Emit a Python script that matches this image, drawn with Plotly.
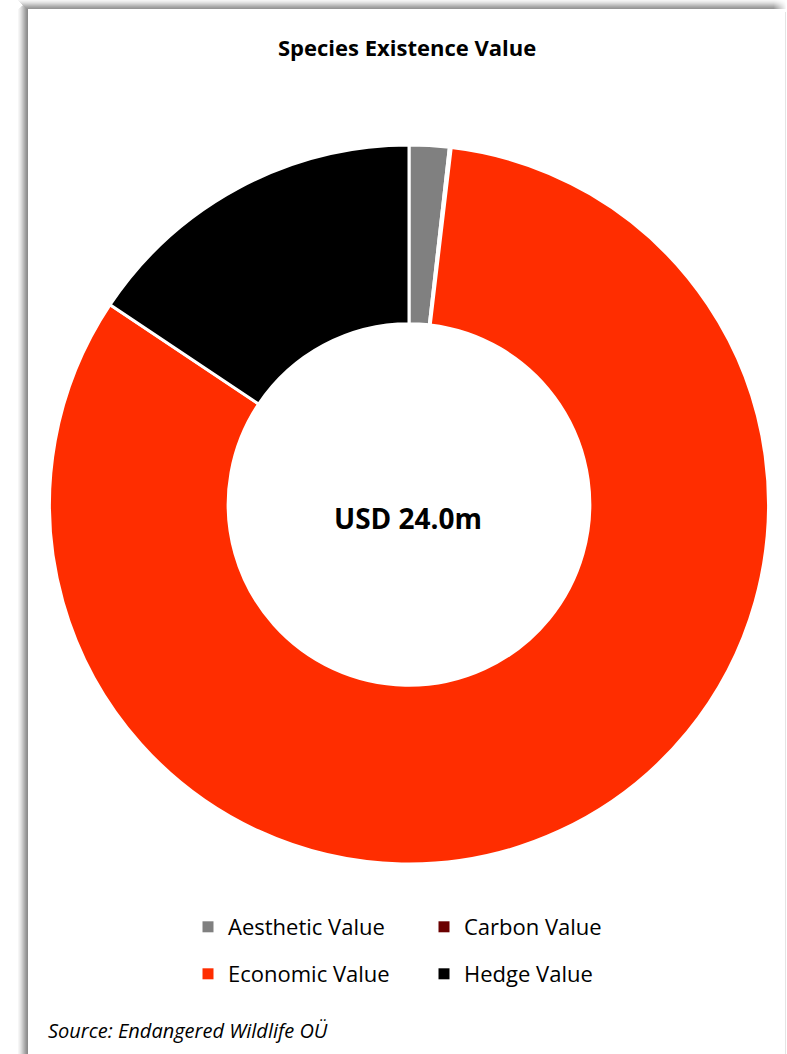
import plotly.graph_objects as go

labels = ["Aesthetic Value", "Carbon Value", "Economic Value", "Hedge Value"]
values = [0.43, 0.02, 19.80, 3.75]
colors = ["#808080", "#6B0000", "#FF2D00", "#000000"]
legend_rows = ["legend", "legend", "legend2", "legend2"]
title_text = "Species Existence Value"
center_text = "USD 24.0m"
source_text = "Source: Endangered Wildlife OÜ"

W, H = 787, 1054

fig = go.Figure(go.Pie(
    labels=labels, values=values, hole=0.503, sort=False, direction="clockwise",
    rotation=0, textinfo="none", hoverinfo="label+value", showlegend=False,
    marker=dict(colors=colors, line=dict(color="white", width=3)),
    domain=dict(x=[49 / W, 769 / W], y=[1 - 864 / H, 1 - 145 / H]),
))

# legend entries (two rows) mirroring the pie slices
for lab, col, lg in zip(labels, colors, legend_rows):
    fig.add_trace(go.Scatter(
        x=[None], y=[None], mode="markers", name=lab, legend=lg,
        marker=dict(symbol="square", size=11, color=col), hoverinfo="skip",
    ))

shapes = []
# card shadow approximation: left edge gradient
left_grays = [246, 238, 228, 216, 202, 188, 174, 160, 148, 140]
for i, g in enumerate(left_grays):
    shapes.append(dict(type="rect", xref="paper", yref="paper",
                       x0=(18 + i) / W, x1=(19 + i) / W, y0=0, y1=1 - (9 - i * 0.9) / H,
                       line=dict(width=0), fillcolor=f"rgb({g},{g},{g})", layer="below"))
# top edge gradient
top_grays = [244, 236, 226, 214, 200, 186, 172, 160, 150]
for i, g in enumerate(top_grays):
    shapes.append(dict(type="rect", xref="paper", yref="paper",
                       x0=(18 + i) / W, x1=786 / W, y0=1 - (i + 1) / H, y1=1 - i / H,
                       line=dict(width=0), fillcolor=f"rgb({g},{g},{g})", layer="below"))
# fade top shadow at right end
for i in range(12):
    shapes.append(dict(type="rect", xref="paper", yref="paper",
                       x0=(774 + i) / W, x1=(775 + i) / W, y0=1 - 9 / H, y1=1,
                       line=dict(width=0), fillcolor=f"rgba(255,255,255,{0.08 + i * 0.075})", layer="below"))
shapes.append(dict(type="line", xref="paper", yref="paper",
                   x0=785.5 / W, x1=785.5 / W, y0=0, y1=1 - 12 / H,
                   line=dict(width=1, color="#e4e4e4"), layer="below"))

legend_common = dict(orientation="h", xanchor="left", yanchor="middle",
                     entrywidth=191, entrywidthmode="pixels", traceorder="normal",
                     font=dict(family="Open Sans", size=22, color="#000000"),
                     itemwidth=30, bgcolor="rgba(0,0,0,0)")

fig.update_layout(
    width=W, height=H, margin=dict(l=0, r=0, t=0, b=0),
    paper_bgcolor="white", plot_bgcolor="white",
    xaxis=dict(visible=False), yaxis=dict(visible=False),
    shapes=shapes,
    showlegend=True,
    legend=dict(x=188 / W, y=1 - 927 / H, **legend_common),
    legend2=dict(x=188 / W, y=1 - 974 / H, **legend_common),
    annotations=[
        dict(text=f"<b>{title_text}</b>", x=407 / W, y=1 - 47 / H, xref="paper", yref="paper",
             showarrow=False, xanchor="center", yanchor="middle",
             font=dict(family="Open Sans", size=22, color="#000000")),
        dict(text=f"<b>{center_text}</b>", x=408 / W, y=1 - 518 / H, xref="paper", yref="paper",
             showarrow=False, xanchor="center", yanchor="middle",
             font=dict(family="Open Sans", size=28, color="#000000")),
        dict(text=f"<i>{source_text}</i>", x=46 / W, y=1 - 1030 / H, xref="paper", yref="paper",
             showarrow=False, xanchor="left", yanchor="middle",
             font=dict(family="Open Sans", size=20, color="#000000")),
    ],
)

fig.write_html("out.html")
